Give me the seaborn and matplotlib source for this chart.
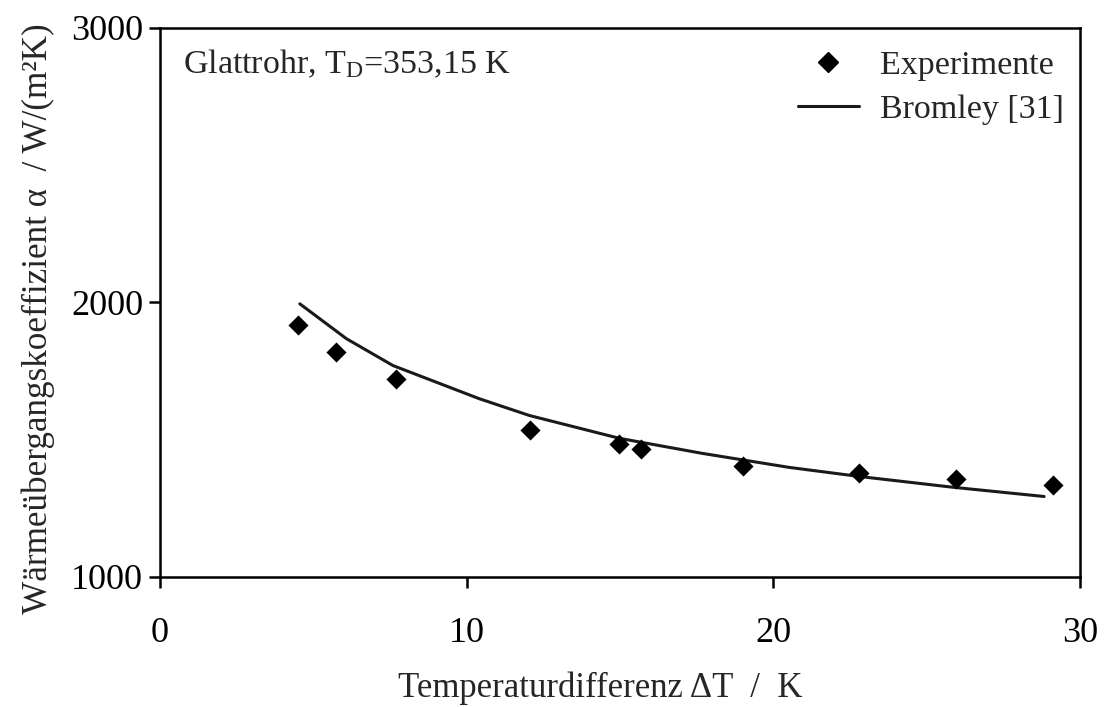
import matplotlib
matplotlib.use("Agg")
import matplotlib.pyplot as plt
from matplotlib.lines import Line2D
import seaborn as sns
import pandas as pd

# Experimental heat transfer coefficients (smooth tube, T_D = 353.15 K)
exp_dT = [4.50, 5.73, 7.71, 12.07, 14.96, 15.67, 19.00, 22.78, 25.95, 29.12]
exp_alpha = [1919, 1821, 1722, 1536, 1485, 1467, 1403, 1378, 1358, 1336]

# Bromley correlation [31]
brom_dT = [4.56, 6.08, 7.60, 10.42, 12.05, 14.98, 17.69, 20.52, 22.80, 25.83, 28.83]
brom_alpha = [1995, 1868, 1770, 1649, 1588, 1505, 1450, 1399, 1366, 1327, 1293]

x_ticks = [0, 10, 20, 30]
y_ticks = [1000, 2000, 3000]

sns.set_theme(style="ticks")
plt.rcParams["font.family"] = ["Liberation Serif", "DejaVu Serif"]
plt.rcParams["mathtext.fontset"] = "custom"
plt.rcParams["mathtext.rm"] = "Liberation Serif"
plt.rcParams["mathtext.it"] = "Liberation Serif:italic"

df_exp = pd.DataFrame({"dT": exp_dT, "alpha": exp_alpha})
df_brom = pd.DataFrame({"dT": brom_dT, "alpha": brom_alpha})

fig = plt.figure(figsize=(11.07, 7.07), dpi=100)
ax = fig.add_axes([0.1445, 0.184, 0.9756 - 0.1445, 0.9604 - 0.184])

sns.lineplot(data=df_brom, x="dT", y="alpha", ax=ax, color="#1a1a1a",
             linewidth=2.2, sort=True, legend=False)
sns.scatterplot(data=df_exp, x="dT", y="alpha", ax=ax, marker="D", s=105,
                color="black", edgecolor="black", linewidth=0, legend=False,
                zorder=3)

ax.set_xlim(0, 30)
ax.set_ylim(1000, 3000)
ax.set_xticks(x_ticks)
ax.set_yticks(y_ticks)
ax.tick_params(axis="both", direction="out", length=8, width=1.8,
               labelsize=26, color="black", labelcolor="black")
ax.tick_params(axis="x", pad=21)
ax.tick_params(axis="y", pad=4)
for sp in ax.spines.values():
    sp.set_linewidth(1.8)
    sp.set_color("black")

ax.set_xlabel("Temperaturdifferenz ΔT  /  K", fontsize=25, labelpad=15)
ax.xaxis.label.set_x(0.479)
ax.set_ylabel("Wärmeübergangskoeffizient α  / W/(m²K)", fontsize=25.3, labelpad=12)
ax.yaxis.label.set_y(0.47)

ax.text(0.025, 0.935, r"Glattrohr, T$_{\mathrm{D}}$=353,15 K", transform=ax.transAxes,
        fontsize=24.5, va="center", ha="left")

handles = [
    Line2D([], [], marker="D", linestyle="none", color="black", markersize=10),
    Line2D([], [], color="#1a1a1a", linewidth=2.2),
]
ax.legend(handles, ["Experimente", "Bromley [31]"], loc="upper right",
          bbox_to_anchor=(1.006, 1.0), frameon=False, fontsize=24.5,
          handlelength=1.8, handletextpad=0.6, labelspacing=0.38,
          borderaxespad=0.25)

fig.savefig("out.png", dpi=100)
